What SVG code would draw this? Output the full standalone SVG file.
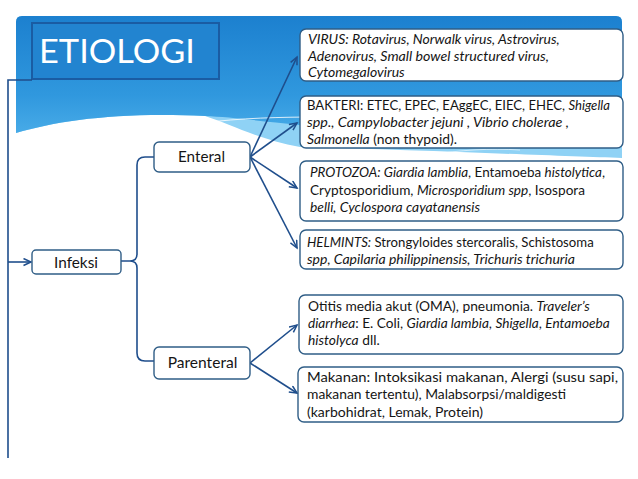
<svg xmlns="http://www.w3.org/2000/svg" width="638" height="479" viewBox="0 0 638 479">
<defs>
<linearGradient id="hdr" x1="0" y1="16" x2="0" y2="160" gradientUnits="userSpaceOnUse">
<stop offset="0" stop-color="#1C80CF"/>
<stop offset="0.55" stop-color="#3098DE"/>
<stop offset="1" stop-color="#58B8EE"/>
</linearGradient>
<marker id="arr" markerWidth="10" markerHeight="10" refX="8" refY="4" orient="auto" markerUnits="userSpaceOnUse">
<path d="M0.5,0.5 L8,4 L0.5,7.5" fill="none" stroke="#1F4E8C" stroke-width="1.5"/>
</marker>
<style>
.box{fill:#FFFFFF;stroke:#2F5D86;stroke-width:1.4}
.con{fill:none;stroke:#1F4E8C;stroke-width:1.6}
.t{font-family:Lato,"Liberation Sans",sans-serif;font-size:13px;fill:#151515}
.n{font-family:Lato,"Liberation Sans",sans-serif;font-size:15px;fill:#151515;text-anchor:middle}
.i{font-style:italic}
</style>
</defs>
<rect width="638" height="479" fill="#FFFFFF"/>
<g id="background">
<path d="M16,22 Q16,16 22,16 L616,16 Q622,16 622,22 L622,158 C560,156 420,150 300,147 C260,140 230,124 205,116 C120,112 60,120 16,133 Z" fill="#8FD2F5"/>
<path d="M16,22 Q16,16 22,16 L616,16 Q622,16 622,22 L622,140 C520,136 360,128 300,125 C260,121 230,117 205,116 C120,112 60,120 16,133 Z" fill="url(#hdr)"/>
<path d="M202,123 C240,118 280,117 320,117" fill="none" stroke="#FFFFFF" stroke-width="1" opacity="0.8"/>
<path d="M430,155 C460,150 490,148 520,150" fill="none" stroke="#FFFFFF" stroke-width="1" opacity="0.6"/>
</g>
<g id="title">
<rect x="32" y="23" width="187" height="56" fill="#2284D0" stroke="#1A5CA3" stroke-width="2"/>
<text x="39" y="63" font-family="Lato,'Liberation Sans',sans-serif" font-size="33" fill="#FFFFFF" textLength="156" lengthAdjust="spacingAndGlyphs">ETIOLOGI</text>
</g>
<g id="connectors">
<path class="con" d="M32,80 L8,80 L8,458"/>
<path class="con" d="M8,262 L31,262" marker-end="url(#arr)"/>
<path class="con" d="M154,157 L145,157 Q137,157 137,165 L137,254 Q137,261 130,261 L121,261 M130,261 Q137,261 137,268 L137,353 Q137,361 145,361 L154,361"/>
<path class="con" d="M250,157 L297,57" marker-end="url(#arr)"/>
<path class="con" d="M250,157 L297,123" marker-end="url(#arr)"/>
<path class="con" d="M250,157 L297,188" marker-end="url(#arr)"/>
<path class="con" d="M250,157 L297,248" marker-end="url(#arr)"/>
<path class="con" d="M250,363 L297,325" marker-end="url(#arr)"/>
<path class="con" d="M250,363 L297,393" marker-end="url(#arr)"/>
</g>
<g id="infeksi">
<rect class="box" x="32" y="250" width="89" height="24" rx="4"/>
<text class="n" x="76" y="267.5" textLength="44" lengthAdjust="spacingAndGlyphs">Infeksi</text>
</g>
<g id="enteral">
<rect class="box" x="154" y="142" width="96" height="30" rx="5"/>
<text class="n" x="201.5" y="162.3" textLength="47" lengthAdjust="spacingAndGlyphs">Enteral</text>
</g>
<g id="parenteral">
<rect class="box" x="154" y="347" width="96" height="32" rx="5"/>
<text class="n" x="202.5" y="368.3" textLength="69.7" lengthAdjust="spacingAndGlyphs">Parenteral</text>
</g>
<g id="virus">
<rect class="box" x="300" y="29" width="323" height="52" rx="6"/>
<text class="t i" x="308" y="44" textLength="251.7" lengthAdjust="spacingAndGlyphs">VIRUS: Rotavirus, Norwalk virus, Astrovirus,</text>
<text class="t i" x="308" y="61" textLength="241" lengthAdjust="spacingAndGlyphs">Adenovirus, Small bowel structured virus,</text>
<text class="t i" x="308" y="77" textLength="96.7" lengthAdjust="spacingAndGlyphs">Cytomegalovirus</text>
</g>
<g id="bakteri">
<rect class="box" x="300" y="96" width="323" height="52" rx="6"/>
<text class="t" x="307" y="110" textLength="303" lengthAdjust="spacingAndGlyphs">BAKTERI: ETEC, EPEC, EAggEC, EIEC, EHEC, <tspan class="i">Shigella</tspan></text>
<text class="t i" x="307" y="127" textLength="262" lengthAdjust="spacingAndGlyphs">spp., Campylobacter jejuni , Vibrio cholerae ,</text>
<text class="t" x="307" y="143.5" textLength="150" lengthAdjust="spacingAndGlyphs"><tspan class="i">Salmonella</tspan> (non thypoid).</text>
</g>
<g id="protozoa">
<rect class="box" x="300" y="161" width="323" height="60" rx="6"/>
<text class="t" x="310" y="177" textLength="295" lengthAdjust="spacingAndGlyphs"><tspan class="i">PROTOZOA: Giardia lamblia</tspan>, Entamoeba <tspan class="i">histolytica</tspan>,</text>
<text class="t" x="310" y="195" textLength="275" lengthAdjust="spacingAndGlyphs">Cryptosporidium, <tspan class="i">Microsporidium spp</tspan>, Isospora</text>
<text class="t i" x="310" y="212" textLength="170" lengthAdjust="spacingAndGlyphs">belli, Cyclospora cayatanensis</text>
</g>
<g id="helmints">
<rect class="box" x="300" y="230" width="323" height="39" rx="6"/>
<text class="t" x="307" y="247" textLength="286.7" lengthAdjust="spacingAndGlyphs"><tspan class="i">HELMINTS:</tspan> Strongyloides stercoralis, Schistosoma</text>
<text class="t i" x="307" y="264" textLength="268" lengthAdjust="spacingAndGlyphs">spp, Capilaria philippinensis, Trichuris trichuria</text>
</g>
<g id="otitis">
<rect class="box" x="299" y="295" width="324" height="59" rx="6"/>
<text class="t" x="308" y="311" textLength="281.7" lengthAdjust="spacingAndGlyphs">Otitis media akut (OMA), pneumonia. <tspan class="i">Traveler’s</tspan></text>
<text class="t" x="308" y="328" textLength="301.7" lengthAdjust="spacingAndGlyphs"><tspan class="i">diarrhea</tspan>: E. Coli, <tspan class="i">Giardia lambia</tspan>, <tspan class="i">Shigella</tspan>, <tspan class="i">Entamoeba</tspan></text>
<text class="t" x="308" y="345" textLength="71.7" lengthAdjust="spacingAndGlyphs"><tspan class="i">histolyca</tspan> dll.</text>
</g>
<g id="makanan">
<rect class="box" x="298" y="367" width="325" height="55" rx="6"/>
<text class="t" x="307" y="382" textLength="311" lengthAdjust="spacingAndGlyphs">Makanan: Intoksikasi makanan, Alergi (susu sapi,</text>
<text class="t" x="307" y="399" textLength="259" lengthAdjust="spacingAndGlyphs">makanan tertentu), Malabsorpsi/maldigesti</text>
<text class="t" x="307" y="416.5" textLength="176" lengthAdjust="spacingAndGlyphs">(karbohidrat, Lemak, Protein)</text>
</g>
</svg>
